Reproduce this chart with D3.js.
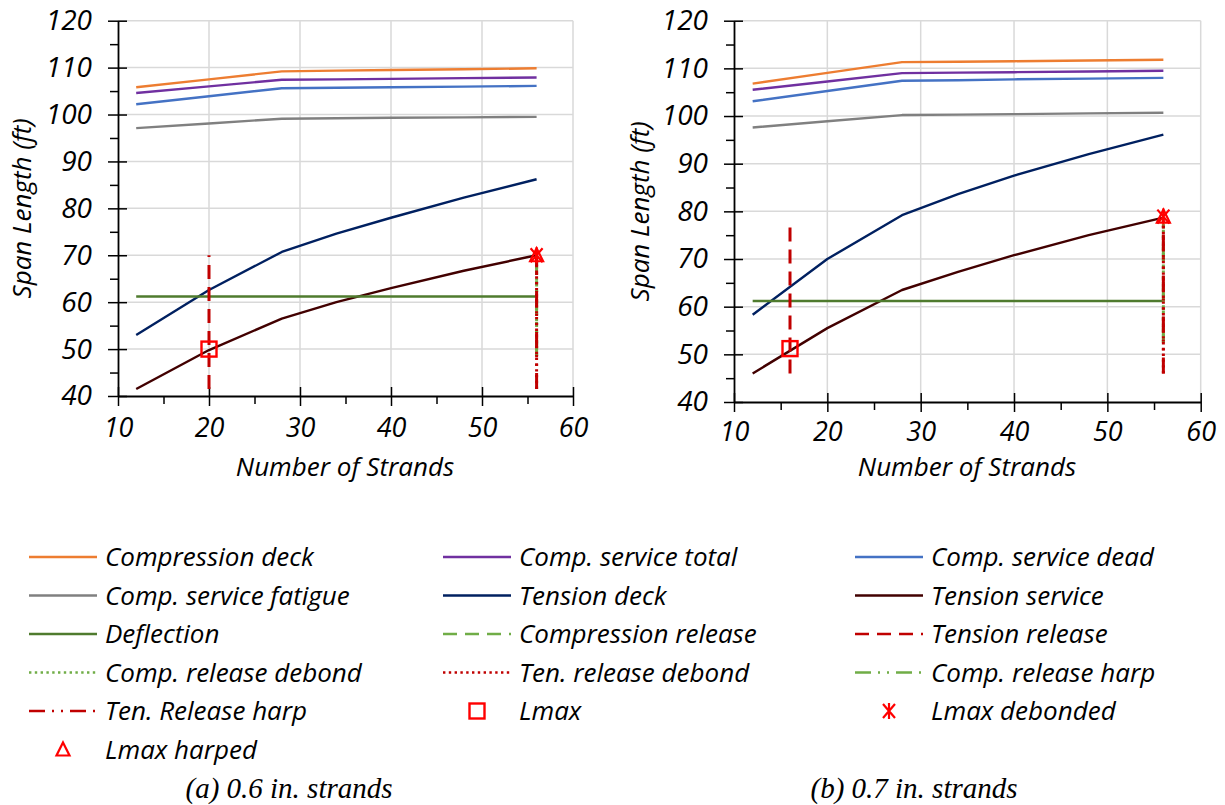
<!DOCTYPE html>
<html>
<head>
<meta charset="utf-8">
<script src="https://cdn.jsdelivr.net/npm/d3@7"></script>
<style>
  body { margin: 0; background: #fff; }
  text { font-family: "Open Sans", sans-serif; font-style: italic; fill: #000; }
</style>
</head>
<body>
<svg id="chart" width="1225" height="805"></svg>
<script>
// ---- data ----
const strands = [12, 20, 28, 34, 40, 48, 56];

// (a) 0.6 in. strands
const compDeckA     = [105.8, 107.5, 109.2, 109.35, 109.5, 109.65, 109.85];
const compTotalA    = [104.6, 106.0, 107.4, 107.5, 107.6, 107.75, 107.9];
const compDeadA     = [102.2, 103.9, 105.6, 105.7, 105.8, 105.95, 106.1];
const compFatigueA  = [97.1, 98.1, 99.1, 99.2, 99.3, 99.4, 99.5];
const tenDeckA      = [53.0, 62.6, 70.7, 74.6, 78.0, 82.3, 86.2];
const tenServiceA   = [41.5, 49.8, 56.5, 60.0, 63.0, 66.7, 70.0];
const deflectionA   = [61.2, 61.2, 61.2, 61.2, 61.2, 61.2, 61.2];
const tenReleaseA   = { x: [20, 20], y: [41.5, 70.0] };
const compDebondA   = { x: [56, 56], y: [48.5, 70.0] };
const tenDebondA    = { x: [56, 56], y: [41.5, 70.0] };
const compHarpA     = { x: [56, 56], y: [48.5, 70.0] };
const tenHarpA      = { x: [56, 56], y: [41.5, 70.0] };
const lmaxA         = [20, 50.0];
const lmaxDebondedA = [56, 70.0];
const lmaxHarpedA   = [56, 70.0];

// (b) 0.7 in. strands
const compDeckB     = [106.8, 109.05, 111.3, 111.4, 111.5, 111.65, 111.8];
const compTotalB    = [105.5, 107.25, 109.0, 109.1, 109.2, 109.35, 109.5];
const compDeadB     = [103.1, 105.25, 107.4, 107.5, 107.7, 107.85, 108.0];
const compFatigueB  = [97.6, 98.9, 100.2, 100.3, 100.4, 100.55, 100.7];
const tenDeckB      = [58.3, 70.0, 79.2, 83.6, 87.5, 92.0, 96.1];
const tenServiceB   = [46.0, 55.5, 63.5, 67.3, 70.8, 75.0, 78.7];
const deflectionB   = [61.2, 61.2, 61.2, 61.2, 61.2, 61.2, 61.2];
const tenReleaseB   = { x: [16, 16], y: [46.0, 77.5] };
const compDebondB   = { x: [56, 56], y: [52.5, 78.7] };
const tenDebondB    = { x: [56, 56], y: [46.0, 78.7] };
const compHarpB     = { x: [56, 56], y: [52.5, 78.7] };
const tenHarpB      = { x: [56, 56], y: [46.0, 78.7] };
const lmaxB         = [16, 51.2];
const lmaxDebondedB = [56, 78.9];
const lmaxHarpedB   = [56, 78.9];

const xTicks = [10, 20, 30, 40, 50, 60];
const yTicks = [40, 50, 60, 70, 80, 90, 100, 110, 120];

const legendNames = [
  "Compression deck", "Comp. service total", "Comp. service dead",
  "Comp. service fatigue", "Tension deck", "Tension service",
  "Deflection", "Compression release", "Tension release",
  "Comp. release debond", "Ten. release debond", "Comp. release harp",
  "Ten. Release harp", "Lmax", "Lmax debonded",
  "Lmax harped"
];
const captions = ["(a) 0.6 in. strands", "(b) 0.7 in. strands"];

// ---- styles ----
const styles = {
  "Compression deck":      { color: "#ED7D31" },
  "Comp. service total":   { color: "#7030A0" },
  "Comp. service dead":    { color: "#4472C4" },
  "Comp. service fatigue": { color: "#808080" },
  "Tension deck":          { color: "#002060" },
  "Tension service":       { color: "#420000" },
  "Deflection":            { color: "#4F7B2E" },
  "Compression release":   { color: "#70AD47", dash: "14,8" },
  "Tension release":       { color: "#C00000", dash: "14,8" },
  "Comp. release debond":  { color: "#70AD47", dash: "2.4,3.4" },
  "Ten. release debond":   { color: "#C00000", dash: "2.4,3.4" },
  "Comp. release harp":    { color: "#70AD47", dash: "16,7,2,7,2,7" },
  "Ten. Release harp":     { color: "#C00000", dash: "16,7,2,7,2,7" },
  "Lmax":                  { color: "#FF0000", marker: "square" },
  "Lmax debonded":         { color: "#FF0000", marker: "asterisk" },
  "Lmax harped":           { color: "#FF0000", marker: "triangle" }
};

const svg = d3.select("#chart");

const panels = [
  {
    left: 118, right: 573, top: 20.7, bottom: 396, xLabelPad: 12, titleX: 345, yTitleX: 31,
    lines: [
      ["Compression deck", compDeckA], ["Comp. service total", compTotalA],
      ["Comp. service dead", compDeadA], ["Comp. service fatigue", compFatigueA],
      ["Tension deck", tenDeckA], ["Tension service", tenServiceA], ["Deflection", deflectionA]
    ],
    verticals: [
      ["Tension release", tenReleaseA], ["Comp. release harp", compHarpA],
      ["Comp. release debond", compDebondA], ["Ten. release debond", tenDebondA],
      ["Ten. Release harp", tenHarpA]
    ],
    markers: [["Lmax", lmaxA], ["Lmax debonded", lmaxDebondedA], ["Lmax harped", lmaxHarpedA]]
  },
  {
    left: 734, right: 1200.7, top: 20.7, bottom: 402, xLabelPad: 10, titleX: 967, yTitleX: 649,
    lines: [
      ["Compression deck", compDeckB], ["Comp. service total", compTotalB],
      ["Comp. service dead", compDeadB], ["Comp. service fatigue", compFatigueB],
      ["Tension deck", tenDeckB], ["Tension service", tenServiceB], ["Deflection", deflectionB]
    ],
    verticals: [
      ["Tension release", tenReleaseB], ["Comp. release harp", compHarpB],
      ["Comp. release debond", compDebondB], ["Ten. release debond", tenDebondB],
      ["Ten. Release harp", tenHarpB]
    ],
    markers: [["Lmax", lmaxB], ["Lmax debonded", lmaxDebondedB], ["Lmax harped", lmaxHarpedB]]
  }
];

const drawMarker = (g, type, cx, cy, color) => {
  if (type === "square") {
    g.append("rect")
      .attr("x", cx - 7.5).attr("y", cy - 7.5)
      .attr("width", 15).attr("height", 15)
      .attr("fill", "none").attr("stroke", color).attr("stroke-width", 2.4);
  } else if (type === "triangle") {
    g.append("path")
      .attr("d", `M${cx},${cy - 7}L${cx + 6.5},${cy + 6}L${cx - 6.5},${cy + 6}Z`)
      .attr("fill", "none").attr("stroke", color).attr("stroke-width", 2.2);
  } else {
    g.append("path")
      .attr("d", `M${cx - 6},${cy - 7}L${cx + 6},${cy + 7}M${cx + 6},${cy - 7}L${cx - 6},${cy + 7}M${cx},${cy - 8}L${cx},${cy + 8}`)
      .attr("fill", "none").attr("stroke", color).attr("stroke-width", 2.2);
  }
};

panels.forEach(p => {
  const x = d3.scaleLinear().domain([10, 60]).range([p.left, p.right]);
  const y = d3.scaleLinear().domain([40, 120]).range([p.bottom, p.top]);
  const g = svg.append("g");

  // gridlines
  g.selectAll(".gx").data(xTicks.slice(1)).join("line")
    .attr("x1", d => x(d)).attr("x2", d => x(d))
    .attr("y1", y(40)).attr("y2", y(120))
    .attr("stroke", "#d9d9d9").attr("stroke-width", 1.5);
  g.selectAll(".gy").data(yTicks.slice(1)).join("line")
    .attr("x1", x(10)).attr("x2", x(60))
    .attr("y1", d => y(d)).attr("y2", d => y(d))
    .attr("stroke", "#d9d9d9").attr("stroke-width", 1.5);

  // minor ticks
  g.append("g").attr("transform", `translate(${x(10)},0)`)
    .call(d3.axisLeft(y).tickValues(d3.range(45, 120, 10)).tickSize(8).tickFormat(""))
    .call(a => a.select(".domain").remove())
    .call(a => a.selectAll("line").attr("stroke-width", 1.5));
  g.append("g").attr("transform", `translate(0,${y(40)})`)
    .call(d3.axisBottom(x).tickValues(d3.range(15, 60, 10)).tickSize(8).tickFormat(""))
    .call(a => a.select(".domain").remove())
    .call(a => a.selectAll("line").attr("stroke-width", 1.5));

  // major axes with crossing ticks
  g.append("g").attr("transform", `translate(${x(10)},0)`)
    .call(d3.axisLeft(y).tickValues(yTicks).tickSize(10).tickSizeOuter(0).tickPadding(16))
    .call(a => a.select(".domain").attr("stroke-width", 1.8))
    .call(a => a.selectAll(".tick line").attr("x1", 9).attr("stroke-width", 1.5))
    .call(a => a.selectAll("text").attr("font-size", 28).attr("font-family", "'Open Sans'").attr("font-style", "italic"));
  g.append("g").attr("transform", `translate(0,${y(40)})`)
    .call(d3.axisBottom(x).tickValues(xTicks).tickSize(10).tickSizeOuter(0).tickPadding(p.xLabelPad))
    .call(a => a.select(".domain").attr("stroke-width", 1.8))
    .call(a => a.selectAll(".tick line").attr("y1", -9).attr("stroke-width", 1.5))
    .call(a => a.selectAll("text").attr("font-size", 27).attr("font-family", "'Open Sans'").attr("font-style", "italic"));

  // axis titles
  g.append("text")
    .attr("x", p.titleX).attr("y", 476)
    .attr("text-anchor", "middle").attr("font-size", 26)
    .text("Number of Strands");
  g.append("text")
    .attr("transform", `translate(${p.yTitleX},${(p.top + p.bottom) / 2}) rotate(-90)`)
    .attr("text-anchor", "middle").attr("font-size", 26)
    .text("Span Length (ft)");

  // series
  const line = d3.line().x(d => x(d[0])).y(d => y(d[1]));
  p.lines.forEach(([name, vals]) => {
    g.append("path")
      .attr("d", line(strands.map((s, i) => [s, vals[i]])))
      .attr("fill", "none")
      .attr("stroke", styles[name].color)
      .attr("stroke-width", 2.4)
      .attr("stroke-linejoin", "round");
  });

  p.verticals.forEach(([name, v]) => {
    g.append("path")
      .attr("d", line(v.x.map((s, i) => [s, v.y[i]])))
      .attr("fill", "none")
      .attr("stroke", styles[name].color)
      .attr("stroke-width", 3)
      .attr("stroke-dasharray", styles[name].dash);
  });

  p.markers.forEach(([name, pt]) => {
    drawMarker(g, styles[name].marker, x(pt[0]), y(pt[1]), styles[name].color);
  });
});

// ---- legend ----
const colX = [29, 443, 855];
const legend = svg.append("g");
legendNames.forEach((name, i) => {
  const cx = colX[i % 3];
  const cy = 557 + Math.floor(i / 3) * 38.5;
  const st = styles[name];
  if (st.marker) {
    drawMarker(legend, st.marker, cx + 34, cy, st.color);
  } else {
    legend.append("line")
      .attr("x1", cx).attr("x2", cx + 68)
      .attr("y1", cy).attr("y2", cy)
      .attr("stroke", st.color)
      .attr("stroke-width", 2.6)
      .attr("stroke-dasharray", st.dash || null);
  }
  legend.append("text")
    .attr("x", cx + 76).attr("y", cy)
    .attr("dy", "0.35em")
    .attr("font-size", 26)
    .text(name);
});

// ---- captions ----
svg.selectAll(".caption").data(captions).join("text")
  .attr("x", (d, i) => [289, 914][i]).attr("y", 798)
  .attr("text-anchor", "middle")
  .style("font-family", "'Liberation Serif', serif")
  .attr("font-size", 29)
  .text(d => d);
</script>
</body>
</html>
